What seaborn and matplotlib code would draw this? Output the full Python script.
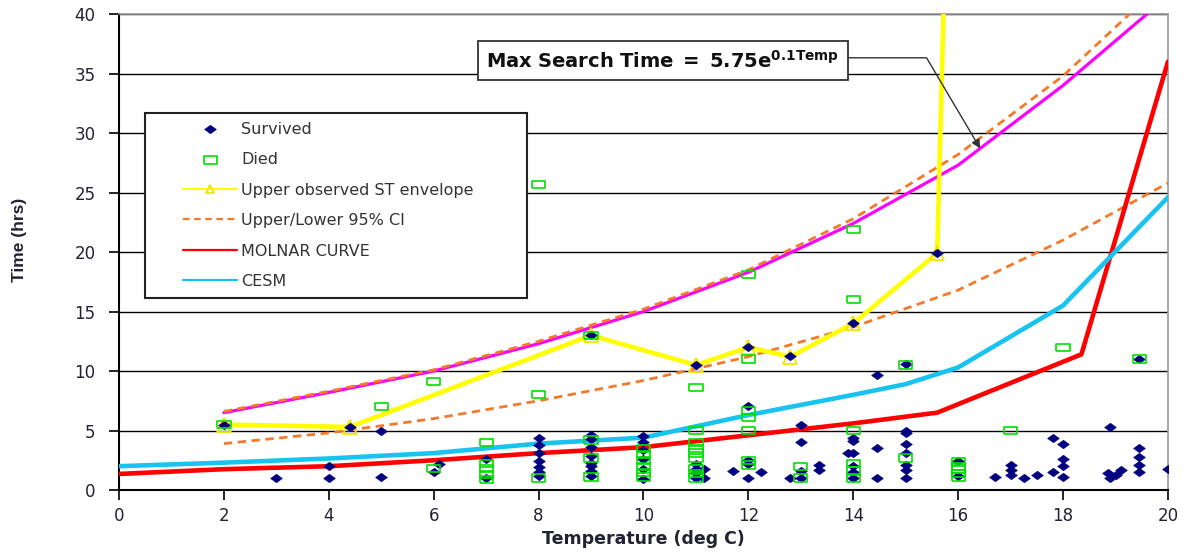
import numpy as np
import matplotlib
matplotlib.use("Agg")
import matplotlib.pyplot as plt
import seaborn as sns

# ---- data ----
surv_x = [2, 3, 4, 4, 4.4, 5, 5, 6, 6.1, 7, 7,
          8, 8, 8, 8, 8, 8, 8,
          9, 9, 9, 9, 9, 9, 9, 9, 9,
          10, 10, 10, 10, 10, 10,
          11, 11, 11, 11, 11, 11.15, 11.15, 11.7,
          12, 12, 12, 12, 12, 12.25, 12.8, 12.8,
          13, 13, 13, 13, 13.35, 13.35,
          14, 14, 14, 14, 14, 14, 14, 13.9, 14.45, 14.45, 14.45,
          15, 15, 15, 15, 15, 15, 15, 15, 15.6,
          16, 16, 16.7, 17, 17, 17, 17.25, 17.5, 17.8, 17.8,
          18, 18, 18, 18, 18.9, 18.9, 19.0, 19.1, 18.85,
          19.45, 19.45, 19.45, 19.45, 19.45, 20]
surv_y = [5.5, 1.0, 2.0, 1.0, 5.3, 5.0, 1.1, 1.5, 2.2, 2.6, 1.0,
          4.4, 3.8, 3.1, 2.4, 1.9, 1.5, 1.2,
          13.0, 4.6, 4.3, 3.6, 2.9, 2.3, 2.0, 1.6, 1.2,
          4.5, 4.0, 3.4, 2.6, 1.8, 0.9,
          10.5, 2.2, 1.8, 1.4, 1.0, 1.75, 1.0, 1.6,
          12.0, 7.1, 2.5, 2.2, 1.0, 1.5, 11.3, 1.0,
          5.5, 4.0, 1.6, 1.0, 2.1, 1.7,
          14.0, 4.4, 4.1, 3.1, 2.0, 1.5, 1.0, 3.1, 9.7, 3.5, 1.0,
          10.6, 5.0, 4.8, 3.9, 3.1, 2.1, 1.7, 1.0, 19.9,
          2.4, 1.2, 1.1, 2.1, 1.7, 1.3, 1.0, 1.3, 4.4, 1.5,
          3.9, 2.6, 2.0, 1.1, 5.3, 1.0, 1.3, 1.7, 1.4,
          11.0, 3.5, 2.8, 2.1, 1.5, 1.8]

died_x = [2, 5, 6, 6, 7, 7, 7, 7, 7,
          8, 8, 8, 9, 9, 9, 9,
          10, 10, 10, 10, 10, 10,
          11, 11, 11, 11, 11, 11, 11, 11, 11,
          12, 12, 12, 12, 12, 12, 12,
          13, 13, 14, 14, 14, 14, 14, 14,
          15, 15, 16, 16, 16, 16, 16, 17, 18, 19.45]
died_y = [5.5, 7.0, 9.1, 1.8, 4.0, 2.2, 1.8, 1.3, 0.9,
          25.7, 8.0, 1.0, 13.0, 4.2, 2.7, 1.1,
          3.5, 3.0, 2.5, 2.0, 1.5, 1.1,
          8.6, 5.0, 4.0, 3.5, 3.1, 2.7, 1.8, 1.4, 1.0,
          18.1, 11.0, 6.7, 6.1, 5.0, 2.5, 2.1,
          2.0, 1.0, 21.9, 16.0, 5.0, 2.2, 1.6, 1.0,
          10.5, 2.7, 2.4, 2.0, 1.7, 1.4, 1.1, 5.0, 12.0, 11.0]

env_x = [2, 4.4, 9, 11, 12, 12.8, 14, 15.6, 15.75]
env_y = [5.5, 5.3, 13.0, 10.5, 12.0, 11.2, 14.0, 19.9, 45]

ci_x = [2, 4, 6, 8, 10, 12, 14, 16, 18, 20]
ci_upper = [6.6, 8.3, 10.1, 12.5, 15.2, 18.5, 22.8, 28.2, 34.8, 43.0]
ci_lower = [3.9, 4.8, 6.0, 7.5, 9.2, 11.2, 13.7, 16.8, 21.0, 25.8]

mst_x = [2, 4, 6, 8, 10, 12, 14, 16, 18, 20]
mst_y = [6.5, 8.2, 10.0, 12.3, 15.0, 18.3, 22.4, 27.3, 34.0, 41.5]

molnar_x = [0, 2, 4, 6, 8, 10, 12, 14, 15.6, 18.35, 20]
molnar_y = [1.35, 1.75, 2.0, 2.5, 3.1, 3.6, 4.6, 5.6, 6.5, 11.4, 36.0]

cesm_x = [0, 2, 4, 6, 8, 10, 12, 14, 15, 16, 18, 20]
cesm_y = [2.0, 2.3, 2.65, 3.1, 3.9, 4.4, 6.3, 8.0, 8.9, 10.3, 15.5, 24.6]

# ---- style ----
sns.set_style("white")
plt.rcParams['font.family'] = ['DejaVu Sans']
txt = '#222233'

fig = plt.figure(figsize=(11.89, 5.52), dpi=100)
ax = fig.add_axes([0.1001, 0.1123, 0.8822, 0.8623])

diamond = np.array([[-1, 0], [0, 0.72], [1, 0], [0, -0.72], [-1, 0]])
rect = np.array([[-1, -0.55], [1, -0.55], [1, 0.55], [-1, 0.55], [-1, -0.55]])

sns.lineplot(x=mst_x, y=mst_y, ax=ax, color='#ff00ff', lw=2.3, sort=False,
             estimator=None, zorder=3)
sns.lineplot(x=ci_x, y=ci_upper, ax=ax, color='#f47a2a', lw=2, sort=False,
             estimator=None, zorder=3, label='Upper/Lower 95% CI')
sns.lineplot(x=ci_x, y=ci_lower, ax=ax, color='#f47a2a', lw=2, sort=False,
             estimator=None, zorder=3)
for l in ax.lines:
    if l.get_color() == '#f47a2a':
        l.set_linestyle((0, (3, 2)))
sns.lineplot(x=molnar_x, y=molnar_y, ax=ax, color='#ff0000', lw=3.3, sort=False,
             estimator=None, zorder=3, label='MOLNAR CURVE')
sns.lineplot(x=cesm_x, y=cesm_y, ax=ax, color='#19c3f0', lw=3.3, sort=False,
             estimator=None, zorder=3, label='CESM')
sns.lineplot(x=env_x, y=env_y, ax=ax, color='#ffff00', lw=3.3, sort=False,
             estimator=None, marker='^', markersize=10, markerfacecolor='none',
             markeredgecolor='#f2e600', markeredgewidth=1.3, zorder=3,
             label='Upper observed ST envelope')

sns.scatterplot(x=surv_x, y=surv_y, ax=ax, marker=diamond, s=70,
                color='#000080', edgecolor='#000080', linewidth=0.5,
                zorder=5, label='Survived')
sns.scatterplot(x=died_x, y=died_y, ax=ax, marker=rect, s=90,
                facecolors='none', edgecolors='#00e000', linewidth=1.2,
                zorder=6, label='Died')

# ---- axes ----
ax.set_xlim(0, 20)
ax.set_ylim(0, 40)
ax.set_xticks(range(0, 21, 2))
ax.set_yticks(range(0, 41, 5))
ax.yaxis.grid(True, color='black', lw=1)
ax.xaxis.grid(False)
ax.set_axisbelow(True)
for side in ['left', 'bottom']:
    ax.spines[side].set_color('black')
    ax.spines[side].set_linewidth(1.5)
for side in ['top', 'right']:
    ax.spines[side].set_color('#999999')
    ax.spines[side].set_linewidth(1.2)
ax.tick_params(axis='y', direction='out', length=7, width=1.2, color='black',
               left=True, pad=10, labelsize=12, labelcolor=txt)
ax.tick_params(axis='x', direction='out', length=7, width=1.2, color='black',
               bottom=True, pad=5, labelsize=12, labelcolor=txt)

ax.set_xlabel('Temperature (deg C)', fontsize=12.5, fontweight='bold',
              color=txt, labelpad=4)
ax.set_ylabel('Time (hrs)', fontsize=12.5, fontweight='bold', color=txt,
              family=['Liberation Sans', 'DejaVu Sans'])
ax.yaxis.set_label_coords(-0.088, 0.525)

# ---- legend ----
h, l = ax.get_legend_handles_labels()
order = ['Survived', 'Died', 'Upper observed ST envelope', 'Upper/Lower 95% CI',
         'MOLNAR CURVE', 'CESM']
hd = dict(zip(l, h))
leg = ax.legend([hd[k] for k in order], order, loc='upper left',
                bbox_to_anchor=(0.061, 0.774), frameon=False, borderpad=0,
                borderaxespad=0, handlelength=3.4, handletextpad=0.25,
                labelspacing=0.97, fontsize=11.5, labelcolor='#333333')
leg.set_zorder(11)
for ln in leg.get_lines():
    ln.set_linewidth(1.6)
    ln.set_markersize(6)
ax.add_patch(plt.Rectangle((0.0248, 0.403), 0.364, 0.389, transform=ax.transAxes,
                           facecolor='white', edgecolor='#222222', lw=1.5,
                           zorder=10))

# ---- annotation ----
ax.annotate(r'$\mathbf{Max\ Search\ Time\ =\ 5.75e^{0.1Temp}}$',
            xy=(16.42, 28.7), xytext=(10.37, 36.1), ha='center', va='center',
            fontsize=14, color='#111111',
            bbox=dict(boxstyle='square,pad=0.45', fc='white', ec='#333333', lw=1.3),
            arrowprops=dict(arrowstyle='-|>', color='#333333', lw=1,
                            mutation_scale=13, shrinkA=0, shrinkB=0,
                            relpos=(1.0, 0.62),
                            connectionstyle='angle,angleA=0,angleB=120.6,rad=0'),
            zorder=12)

fig.savefig('out.png', dpi=100)
